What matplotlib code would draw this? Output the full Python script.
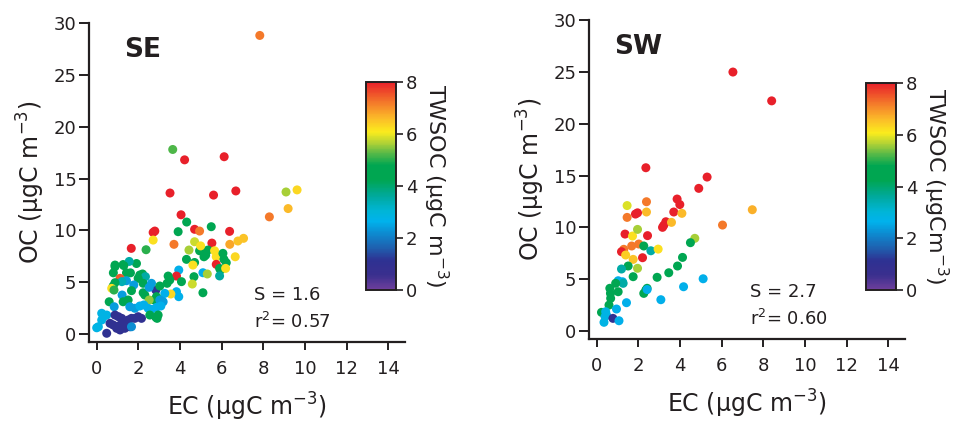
import numpy as np
import matplotlib
matplotlib.use("Agg")
import matplotlib.pyplot as plt
from matplotlib.colors import LinearSegmentedColormap, Normalize
from matplotlib.cm import ScalarMappable

plt.rcParams['font.family'] = ['DejaVu Sans']
plt.rcParams['mathtext.fontset'] = 'dejavusans'

# SE site: EC, OC (ugC m-3) and TWSOC colour value
ec_se = [7.83, 3.65, 4.22, 6.12, 3.52, 5.61, 6.68, 9.09, 9.62, 9.19, 8.29, 4.05,
         4.32, 5.50, 4.70, 4.94, 6.38, 2.79, 2.71, 3.91, 2.71, 3.71, 4.70, 5.53,
         6.39, 6.78, 7.05, 1.66, 2.37, 4.43, 4.94, 5.34, 5.23, 5.15, 4.31, 4.70,
         5.66, 5.74, 6.65, 6.06, 6.11, 5.74, 6.22, 5.90, 5.95, 6.19, 5.90, 5.10,
         5.31, 4.67, 5.10, 4.59, 3.94, 3.83, 3.43, 3.51, 3.38, 4.07, 3.83, 3.94,
         3.56, 3.27, 3.11, 4.99, 4.62, 1.91, 1.27, 0.88,
         1.56, 0.88, 1.30, 0.80, 1.43, 1.62, 2.07, 2.20, 2.34, 1.99, 1.12, 1.43,
         1.21, 1.78, 2.23, 0.88, 0.79, 0.72, 0.83, 1.22, 1.67, 2.23, 2.31, 2.84,
         2.63, 2.52, 3.03, 2.87, 2.76, 3.03, 3.19, 2.52, 0.60, 0.84, 1.27, 1.51,
         1.59, 1.83, 2.07, 2.26, 2.47, 2.63, 2.87, 3.08, 2.55, 2.84, 2.95, 2.90,
         0.24, 0.32, 0.48, 0.08, 0.24,
         0.88, 1.04, 1.20, 0.64, 0.79, 1.04, 1.20, 1.35, 1.51, 1.67, 0.96, 1.12,
         1.35, 1.59, 1.83, 1.99, 2.15, 0.48, 1.67, 0.00]
oc_se = [28.8, 17.8, 16.8, 17.1, 13.6, 13.4, 13.8, 13.7, 13.9, 12.1, 11.3, 11.5,
         10.8, 10.35, 10.1, 9.93, 9.9, 9.93, 9.8, 9.87, 9.06, 8.65, 8.9, 8.77,
         8.65, 8.97, 9.23, 8.26, 8.13, 8.1, 8.03, 8.1, 7.6, 7.45, 7.2, 6.9,
         8.03, 7.45, 7.45, 7.78, 7.2, 6.72, 6.88, 6.33, 6.17, 6.33, 5.6, 5.91,
         5.79, 5.53, 3.98, 4.82, 6.17, 5.59, 5.59, 5.21, 4.89, 5.05, 4.08, 3.6,
         3.86, 3.92, 3.28, 8.5, 6.65, 6.8, 6.7, 6.65,
         7.0, 6.5, 6.6, 5.9, 5.9, 5.9, 5.69, 5.79, 5.53, 5.37, 5.37, 5.14,
         5.05, 4.73, 4.89, 4.95, 4.63, 4.4, 4.24, 3.76, 4.18, 3.98, 3.76, 4.24,
         4.89, 4.5, 4.63, 3.6, 3.28, 3.28, 3.11, 3.28, 3.11, 2.63, 3.11, 3.28,
         2.63, 2.48, 2.7, 2.8, 2.48, 2.38, 2.57, 2.7, 1.83, 1.61, 1.83, 1.51,
         2.0, 1.67, 1.83, 0.7, 1.35,
         1.83, 1.67, 1.51, 1.03, 0.87, 0.77, 0.96, 1.19, 1.35, 1.51, 0.55, 0.39,
         0.55, 0.7, 1.51, 1.67, 1.51, 0.07, 0.7, 0.6]
tw_se = [7.2, 5.2, 8, 8, 8, 8, 8, 5.6, 6.3, 6.6, 7.2, 8,
         4.4, 4.4, 8, 7.2, 8, 8, 8, 4.4, 6.2, 7.2, 5.8, 8,
         6.8, 6.5, 6.5, 8, 5.0, 5.6, 4.4, 4.4, 4.4, 4.6, 4.4, 4.4,
         6.2, 6.2, 6.3, 4.4, 4.4, 8, 4.4, 4.4, 4.4, 6.2, 3.6, 2.6,
         5.6, 4.4, 4.4, 5.8, 2.6, 8, 4.4, 4.4, 4.4, 4.4, 2.6, 2.6,
         6.3, 2.6, 2.6, 6.2, 6.2, 4.4, 4.4, 4.4,
         3.5, 4.4, 4.4, 4.4, 4.4, 4.4, 4.4, 4.4, 3.5, 4.4, 7.5, 2.4,
         3.4, 2.4, 4.4, 4.4, 4.4, 6.2, 5.0, 2.4, 4.4, 4.4, 4.4, 1.0,
         2.4, 2.4, 4.4, 4.4, 4.4, 2.4, 2.4, 5.5, 4.4, 2.4, 4.4, 4.4,
         2.4, 2.4, 2.6, 2.6, 2.6, 2.6, 2.6, 2.6, 4.4, 4.4, 4.4, 4.4,
         2.8, 2.8, 2.8, 2.8, 2.8,
         1.0, 1.0, 1.0, 1.0, 1.0, 1.0, 1.0, 1.0, 1.0, 1.0, 1.0, 1.0,
         1.0, 1.0, 1.0, 1.0, 1.0, 1.0, 2.2, 2.8]

# SW site
ec_sw = [6.54, 8.40, 2.36, 5.30, 4.90, 3.86, 3.99, 7.47, 1.46, 2.39, 2.39, 1.86,
         1.96, 3.70, 4.09, 1.46, 6.04, 3.22, 3.16, 3.32, 3.59, 1.36, 1.72, 1.96,
         2.44, 1.30, 1.68, 2.02, 1.19, 1.39, 1.75, 2.26, 2.60, 2.95, 2.20, 4.71,
         4.50, 4.12, 3.88, 3.46, 2.90, 5.11, 4.17, 3.08, 2.26, 2.36, 2.42, 2.42,
         1.96, 1.75, 1.51, 1.19, 1.03, 1.24, 1.27, 1.03, 0.63, 0.66, 0.67, 0.91,
         0.59, 1.43, 0.95, 0.23, 0.43, 0.47, 0.40, 0.78, 0.35, 1.07]
oc_sw = [24.98, 22.2, 15.75, 14.85, 13.76, 12.73, 12.2, 11.7, 12.1, 12.47, 11.48, 11.28,
         11.4, 11.48, 11.35, 10.96, 10.22, 10.2, 10.0, 10.54, 10.48, 9.35, 9.16, 9.8,
         9.2, 7.88, 8.2, 8.39, 7.65, 7.33, 6.91, 8.2, 7.74, 7.9, 7.07, 8.94,
         8.52, 7.1, 6.27, 5.62, 5.18, 5.04, 4.27, 3.02, 3.63, 3.95, 4.12, 4.0,
         6.05, 5.24, 6.27, 5.98, 4.85, 4.75, 4.6, 3.79, 4.12, 3.63, 3.15, 4.6,
         2.5, 2.73, 2.12, 1.8, 1.86, 1.54, 1.38, 1.22, 0.84, 0.99]
tw_sw = [8, 8, 8, 8, 8, 8, 8, 6.7, 5.9, 7.2, 6.6, 8,
         8, 8, 6.6, 7.2, 7.2, 8, 8, 8, 6.6, 8, 6.2, 5.6,
         8, 7.2, 7.2, 7.2, 8, 6.4, 6.5, 4.4, 3.5, 6.2, 8, 5.6,
         4.8, 4.4, 4.4, 4.4, 4.4, 2.6, 2.6, 2.6, 4.4, 4.4, 4.4, 2.6,
         5.6, 4.4, 4.4, 3.5, 2.6, 2.6, 3.5, 4.4, 4.4, 4.4, 4.4, 4.4,
         4.4, 2.6, 2.6, 4.4, 2.8, 2.8, 2.8, 1.0, 2.8, 2.6]

cb_ticks = [0, 2, 4, 6, 8]
x_ticks = [0, 2, 4, 6, 8, 10, 12, 14]
y_ticks = [0, 5, 10, 15, 20, 25, 30]

cmap = LinearSegmentedColormap.from_list("twsoc", [
    (0.0, "#6f3f9c"), (0.07, "#3a2f8e"), (0.14, "#2e3192"), (0.2, "#1f5fae"),
    (0.27, "#0d8ad0"), (0.33, "#00b2ec"), (0.38, "#00b5d6"), (0.45, "#00a99d"),
    (0.53, "#00a651"), (0.6, "#00a651"), (0.66, "#5cba47"), (0.71, "#b5d334"),
    (0.76, "#fbec1d"), (0.83, "#fbb829"), (0.9, "#f47b2a"), (1.0, "#e8202a")])
norm = Normalize(0, 8)
ink = '#231f20'

fig = plt.figure(figsize=(9.61, 4.22), dpi=100)

panels = [
    ("SE", 1.3, ec_se, oc_se, tw_se, [0.0926, 0.1896, 0.3288, 0.7559],
     [0.3809, 0.3128, 0.0312, 0.4929], 7.55, "S = 1.6", "r$^{2}$= 0.57",
     "TWSOC (μgC m$^{-3}$)"),
    ("SW", 0.85, ec_sw, oc_sw, tw_sw, [0.6129, 0.1967, 0.3288, 0.7559],
     [0.9011, 0.3128, 0.0312, 0.4905], 7.35, "S = 2.7", "r$^{2}$= 0.60",
     "TWSOC (μgCm$^{-3}$)"),
]

for name, name_x, ec, oc, tw, rect, crect, s_x, s_txt, r_txt, cb_label in panels:
    ax = fig.add_axes(rect)
    ax.scatter(ec, oc, c=tw, cmap=cmap, norm=norm, s=42, edgecolors='none',
               zorder=3)
    ax.set_xlim(-0.37, 14.8)
    ax.set_ylim(-0.77, 30)
    ax.set_xticks(x_ticks)
    ax.set_yticks(y_ticks)
    for side in ['top', 'right']:
        ax.spines[side].set_visible(False)
    for side in ['left', 'bottom']:
        ax.spines[side].set_linewidth(1.6)
        ax.spines[side].set_color(ink)
    ax.tick_params(axis='y', length=7, width=1.4, labelsize=13,
                   color=ink, labelcolor=ink, pad=2)
    ax.tick_params(axis='x', length=6, width=1.4, labelsize=13,
                   color=ink, labelcolor=ink, pad=7)
    ax.set_xlabel("EC (μgC m$^{-3}$)", fontsize=17, labelpad=9, color=ink)
    ax.set_ylabel("OC (μgC m$^{-3}$)", fontsize=17, labelpad=5, color=ink)
    ax.text(name_x, 26.7, name, fontsize=19, fontweight='bold', color=ink)
    ax.text(s_x, 3.3, s_txt, fontsize=13, color=ink)
    ax.text(s_x, 0.55, r_txt, fontsize=13, color=ink)

    cax = fig.add_axes(crect)
    cb = fig.colorbar(ScalarMappable(norm=norm, cmap=cmap), cax=cax,
                      ticks=cb_ticks)
    cb.outline.set_linewidth(1.4)
    cb.outline.set_edgecolor(ink)
    cax.tick_params(length=5, width=1.2, labelsize=13, pad=2, color=ink,
                    labelcolor=ink)
    cb.set_label(cb_label, rotation=270, fontsize=16, labelpad=24, color=ink)

fig.savefig("out.png", dpi=100)
